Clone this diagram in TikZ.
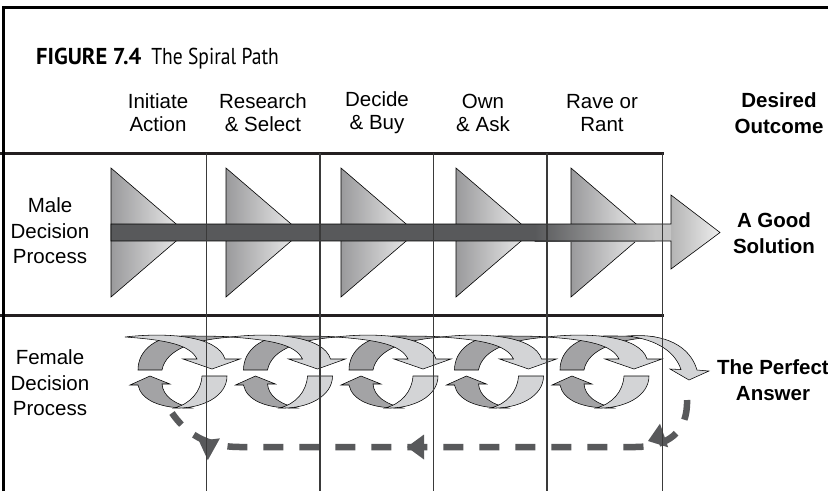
\documentclass[tikz,border=0pt]{standalone}
\usepackage{fontspec}
\setmainfont{Liberation Sans}
\newfontfamily\captionbold[FakeStretch=0.98]{PT Sans}
\newfontfamily\captionreg[FakeStretch=0.85]{PT Sans}
\usetikzlibrary{calc}

\definecolor{rulecol}{HTML}{231F20}
\definecolor{gridcol}{HTML}{3A3A3A}
\definecolor{bardark}{HTML}{58595B}
\definecolor{barlight}{HTML}{C4C4C4}
\definecolor{headleft}{HTML}{B4B4B4}
\definecolor{headright}{HTML}{EEEEEE}
\definecolor{trileft}{HTML}{9A9A9C}
\definecolor{triright}{HTML}{F0F0F0}
\definecolor{ribdark}{HTML}{A3A3A5}
\definecolor{riblight}{HTML}{D3D4D6}
\definecolor{dashcol}{HTML}{58595B}

\tikzset{
  sidelabel/.style={font=\fontsize{20.5}{25.5}\selectfont, align=center, inner sep=0pt},
  outcome/.style={font=\fontsize{20.5}{25.5}\selectfont\bfseries, align=center, inner sep=0pt},
  colhead/.style={font=\fontsize{20.5}{23}\selectfont, align=center, inner sep=0pt},
  stagetri/.style={left color=trileft, right color=triright, draw=black, line width=0.6pt},
  ribdk/.style={fill=ribdark, draw=black, line width=0.55pt},
  riblt/.style={fill=riblight, draw=black, line width=0.55pt},
  loopline/.style={draw=dashcol, line width=6.5pt, dash pattern=on 20pt off 16pt},
  loophead/.style={fill=dashcol},
  % one turn of the spiral: an upper ring (dark tail, light head) and a lower ring
  spiralunit/.pic={
    \path[ribdk] (54,408) .. controls (22,409) and (3,400) .. (0,385)
       -- (-8,385) -- (12,376) -- (32,384) -- (24,384)
       .. controls (25,396) and (36,404) .. (54,408) -- cycle;
    \path[riblt] (36,408) .. controls (65,409) and (89,396) .. (89,376)
       -- (64,376) .. controls (63,392) and (52,404) .. (36,408) -- cycle;
    \path[ribdk] (0,370) .. controls (0,350) and (18,336) .. (44,336)
       .. controls (62,336) and (80,336) .. (95,337)
       .. controls (60,339) and (28,348) .. (24,370) -- cycle;
    \path[riblt] (-13,337) .. controls (30,332) and (80,336) .. (87,359)
       -- (102,359) -- (74,369) -- (45,359) -- (59,359)
       .. controls (52,345) and (30,340) .. (-13,337) -- cycle;
  }
}

\begin{document}
\begin{tikzpicture}[x=1pt,y=-1pt]
\useasboundingbox (0,0) rectangle (828,491);

% title
\node[anchor=base west, inner sep=0pt, font=\fontsize{23}{27}\selectfont] (title) at (36,64)
  {\captionbold\bfseries FIGURE 7.4\hspace{10pt}\captionreg\mdseries The Spiral Path};

% column heads
\node[colhead] (h1) at (158,113) {Initiate\\Action};
\node[colhead] (h2) at (263,113) {Research\\\& Select};
\node[colhead] (h3) at (377,113) {Decide\\\& Buy};
\node[colhead] (h4) at (483,113) {Own\\\& Ask};
\node[colhead] (h5) at (602,113) {Rave or\\Rant};
\node[outcome] (h6) at (779,113) {Desired\\Outcome};

% row labels
\node[sidelabel] (male) at (50,231) {Male\\Decision\\Process};
\node[sidelabel] (female) at (50,383) {Female\\Decision\\Process};
\node[outcome] (good) at (774,233) {A Good\\Solution};
\node[outcome] (perfect) at (773,380) {The Perfect\\Answer};

% male row: five stage triangles
\foreach \i in {0,...,4} {
  \pgfmathsetmacro\tx{111+115*\i}
  \path[stagetri] (\tx,168) -- (\tx+75,232.5) -- (\tx,297) -- cycle;
}
% straight arrow through the stages
\fill[bardark] (111,224) rectangle (535,241);
\shade[left color=bardark, right color=barlight] (534.5,224) rectangle (655,241);
\fill[barlight] (654.5,224) rectangle (672,241);
\shade[left color=headleft, right color=headright] (671,195) -- (720,232.5) -- (671,269) -- cycle;
\draw[black, line width=0.6pt] (111,224) -- (671,224) -- (671,195) -- (720,232.5)
  -- (671,269) -- (671,241) -- (111,241) -- cycle;

% female row: spiral turns
\foreach \L in {138,243.5,349,454.5,560}
  \pic at (\L,0) {spiralunit};
\path[riblt] (628,336) .. controls (665,333) and (690,346) .. (697,370)
   -- (709,371) -- (689,380) -- (670,369) -- (681,369.5)
   .. controls (675,352) and (658,340) .. (628,336) -- cycle;

% dashed return path
\path[loopline] (687,400) .. controls (688,432) and (668,447) .. (635,447)
   -- (240,447) .. controls (205,447) and (185,432) .. (172,413);
\fill[loophead, shift={(648,441)}, rotate=199] (0,0) -- (-17,12.5) -- (-17,-12.5) -- cycle;
\fill[loophead, shift={(407,447)}, rotate=180] (0,0) -- (-17,12.5) -- (-17,-12.5) -- cycle;
\fill[loophead, shift={(199,441)}, rotate=151] (0,0) -- (-17,12.5) -- (-17,-12.5) -- cycle;

% table rules
\draw[rulecol, line width=3pt] (0,153) -- (663.5,153);
\draw[rulecol, line width=3pt] (0,315) -- (663.5,315);
\foreach \x in {206.5,320,433.5,547,662.5}
  \draw[gridcol, line width=1.3pt] (\x,153) -- (\x,491);

% frame
\draw[black, line width=3pt] (3.5,491) -- (3.5,7.5) -- (828,7.5);
\end{tikzpicture}
\end{document}
